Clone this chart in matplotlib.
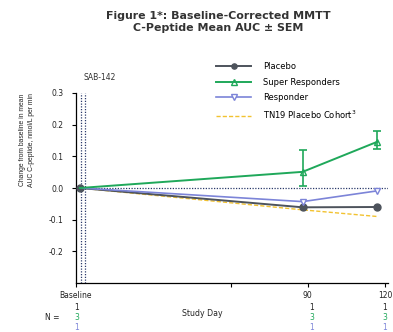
import matplotlib.pyplot as plt

# Dados
days_pts = [1.5, 88, 117]
placebo = [0.0, -0.061, -0.060]
super_resp = [0.0, 0.051, 0.146]
super_err_lo = [0.0, 0.045, 0.023]
super_err_hi = [0.0, 0.069, 0.034]
responder = [0.0, -0.043, -0.009]
tn19_days = [1.5, 88, 117]
tn19 = [0.0, -0.069, -0.090]

tick_days = [0, 60, 90, 120]
tick_labels = ['Baseline', '', '90', '120']
n_placebo = ['1', '1', '1']
n_super = ['3', '3', '3']
n_resp = ['1', '1', '1']

c_gray = '#4d535c'
c_green = '#1fa85a'
c_blue = '#7c84d8'
c_yellow = '#f2c230'
c_navy = '#2b3a6b'
c_text = '#222222'

fig = plt.figure(figsize=(3.93, 3.32), dpi=100)
ax = fig.add_axes([76/393, 1-283/332, 311.6/393, 190/332])

ax.axhline(0, color=c_navy, lw=0.9, ls=(0, (1, 1.2)), zorder=1)
ax.axvline(2.0, color=c_navy, lw=0.9, ls=(0, (1, 1.2)), zorder=1)
ax.axvline(3.6, color=c_navy, lw=0.9, ls=(0, (1, 1.2)), zorder=1)

ax.plot(tn19_days, tn19, color=c_yellow, lw=1.0, ls=(0, (3, 1.5)), zorder=2,
        label='TN19 Placebo Cohort$^3$')
ax.plot(days_pts, responder, color=c_blue, lw=1.2, marker='v', ms=5,
        mfc='white', mec=c_blue, markevery=[1, 2], zorder=4, label='Responder')
ax.plot(days_pts, placebo, color=c_gray, lw=1.4, marker='o', ms=5, zorder=3,
        label='Placebo')
ax.errorbar(days_pts[1:], super_resp[1:],
            yerr=[super_err_lo[1:], super_err_hi[1:]],
            color=c_green, lw=0, elinewidth=1.2, capsize=3, capthick=1.2, zorder=5)
ax.plot(days_pts, super_resp, color=c_green, lw=1.4, marker='^', ms=5,
        mfc='none', mec=c_green, markevery=[1, 2], zorder=5, label='Super Responders')

ax.set_xlim(0, 121)
ax.set_ylim(-0.3, 0.3)
ax.set_yticks([-0.2, -0.1, 0.0, 0.1, 0.2, 0.3])
ax.set_yticklabels(['-0.2', '-0.1', '0.0', '0.1', '0.2', '0.3'], fontsize=5.5, color=c_text)
ax.set_xticks(tick_days)
ax.set_xticklabels(tick_labels, fontsize=5.5, color=c_text)
ax.tick_params(axis='y', length=3, width=0.8, pad=6)
ax.tick_params(axis='x', length=3, width=0.8, pad=3)
ax.spines['top'].set_visible(False)
ax.spines['right'].set_visible(False)
ax.spines['left'].set_linewidth(0.9)
ax.spines['bottom'].set_linewidth(0.9)

# Legenda
handles, labels = ax.get_legend_handles_labels()
order = [2, 3, 1, 0]
fig.legend([handles[i] for i in order], [labels[i] for i in order],
           loc='upper left', bbox_to_anchor=(216/393, 1-62/332), frameon=False,
           fontsize=6, handlelength=4.2, labelspacing=0.8, handletextpad=1.4,
           borderaxespad=0, borderpad=0, markerscale=0.75)

# Textos
fig.text(218/393, 1-22/332, 'Figure 1*: Baseline-Corrected MMTT\nC-Peptide Mean AUC \u00b1 SEM',
         ha='center', va='center', fontsize=7.9, fontweight='bold', color='#333333',
         linespacing=1.3)
fig.text(100/393, 1-77/332, 'SAB-142', ha='center', va='center', fontsize=5.5, color='#333333')
fig.text(27/393, 1-140/332, 'Change from baseline in mean\nAUC C-peptide, nmol/L per min',
         rotation=90, ha='center', va='center', fontsize=4.9, color=c_text, linespacing=1.3,
         family='Liberation Sans')
fig.text(202/393, 1-313/332, 'Study Day', ha='center', va='center', fontsize=5.6, color=c_text)
fig.text(52/393, 1-318/332, 'N =', ha='center', va='center', fontsize=5.5, color=c_text)

n_x = [77, 312, 385]
for i, x in enumerate(n_x):
    fig.text(x/393, 1-307/332, n_placebo[i], ha='center', va='center', fontsize=5.5, color=c_text)
    fig.text(x/393, 1-317.5/332, n_super[i], ha='center', va='center', fontsize=5.5, color=c_green)
    fig.text(x/393, 1-328/332, n_resp[i], ha='center', va='center', fontsize=5.5, color=c_blue)

fig.savefig('out.png', dpi=100)
